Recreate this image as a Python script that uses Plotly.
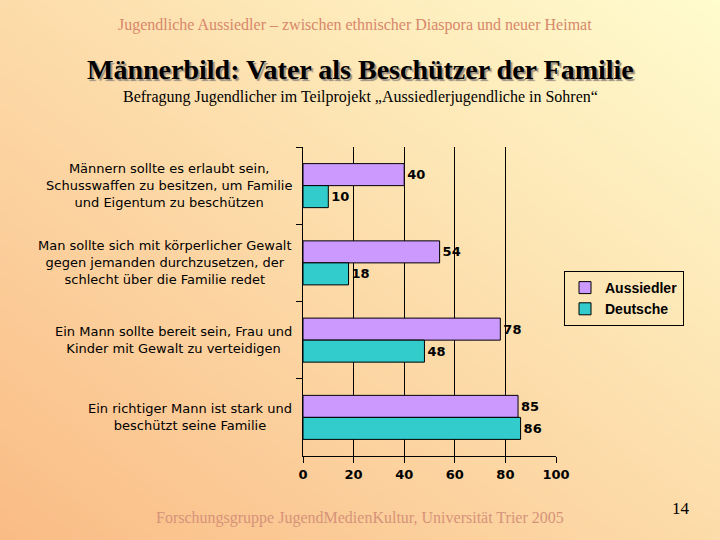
import base64, struct, zlib
import plotly.graph_objects as go

# ---------------- data ----------------
categories = [
    "Männern sollte es erlaubt sein,<br>Schusswaffen zu besitzen, um Familie<br>und Eigentum zu beschützen",
    "Man sollte sich mit körperlicher Gewalt<br>gegen jemanden durchzusetzen, der<br>schlecht über die Familie redet",
    "Ein Mann sollte bereit sein, Frau und<br>Kinder mit Gewalt zu verteidigen",
    "Ein richtiger Mann ist stark und<br>beschützt seine Familie",
]
aussiedler = [40, 54, 78, 85]
deutsche = [10, 18, 48, 86]
x_ticks = [0, 20, 40, 60, 80, 100]

header = "Jugendliche Aussiedler – zwischen ethnischer Diaspora und neuer Heimat"
title = "Männerbild: Vater als Beschützer der Familie"
subtitle = "Befragung Jugendlicher im Teilprojekt „Aussiedlerjugendliche in Sohren“"
footer = "Forschungsgruppe JugendMedienKultur, Universität Trier 2005"
page_no = "14"

# ---------------- layout geometry ----------------
W, H = 720, 540
L, R, T, B = 303, 720 - 556, 147, 540 - 456
PW, PH = W - L - R, H - T - B


def px_x(x):
    return (x - L) / PW


def px_y(y):
    return (H - B - y) / PH


# ---------------- gradient background PNG ----------------
def gradient_png(w, h):
    c0 = (250, 188, 134)   # bottom-left
    c1 = (255, 252, 206)   # top-right
    rows = []
    for j in range(h):
        row = bytearray([0])
        for i in range(w):
            t = (i / (w - 1) + (1 - j / (h - 1))) / 2
            for k in range(3):
                row.append(int(round(c0[k] + (c1[k] - c0[k]) * t)))
        rows.append(bytes(row))
    raw = b"".join(rows)

    def chunk(tag, data):
        c = tag + data
        return struct.pack(">I", len(data)) + c + struct.pack(">I", zlib.crc32(c) & 0xffffffff)

    png = b"\x89PNG\r\n\x1a\n"
    png += chunk(b"IHDR", struct.pack(">IIBBBBB", w, h, 8, 2, 0, 0, 0))
    png += chunk(b"IDAT", zlib.compress(raw, 9))
    png += chunk(b"IEND", b"")
    return "data:image/png;base64," + base64.b64encode(png).decode()


bg = gradient_png(144, 108)

# ---------------- figure ----------------
fig = go.Figure()
fig.add_trace(go.Bar(
    y=categories, x=aussiedler, orientation="h", name="Aussiedler",
    marker=dict(color="#CC99FF", line=dict(color="black", width=1)),
    text=[str(v) for v in aussiedler], textposition="outside",
    textfont=dict(family="DejaVu Sans", size=13, color="black", weight="bold"),
    cliponaxis=False,
))
fig.add_trace(go.Bar(
    y=categories, x=deutsche, orientation="h", name="Deutsche",
    marker=dict(color="#33CCCC", line=dict(color="black", width=1)),
    text=[str(v) for v in deutsche], textposition="outside",
    textfont=dict(family="DejaVu Sans", size=13, color="black", weight="bold"),
    cliponaxis=False,
))

annotations = []
# category labels (centered multi-line)
for c in categories:
    annotations.append(dict(
        x=0, xref="paper", y=c, yref="y", text=c, showarrow=False,
        xanchor="right", yanchor="middle", align="center", xshift=-9,
        font=dict(family="DejaVu Sans", size=13, color="black"),
    ))
# header texts
annotations.append(dict(x=px_x(355), y=px_y(25), xref="paper", yref="paper", text=header,
                        showarrow=False, xanchor="center", yanchor="middle",
                        font=dict(family="Liberation Serif", size=16, color="#D8876A")))
annotations.append(dict(x=px_x(360), y=px_y(70), xref="paper", yref="paper", text=title,
                        showarrow=False, xanchor="center", yanchor="middle",
                        font=dict(family="Liberation Serif", size=28, color="black", weight="bold",
                                  shadow="2px 2px 1px #9a8f80")))
annotations.append(dict(x=px_x(360), y=px_y(97), xref="paper", yref="paper", text=subtitle,
                        showarrow=False, xanchor="center", yanchor="middle",
                        font=dict(family="Liberation Serif", size=16, color="black")))
annotations.append(dict(x=px_x(360), y=px_y(518), xref="paper", yref="paper", text=footer,
                        showarrow=False, xanchor="center", yanchor="middle",
                        font=dict(family="Liberation Serif", size=16, color="#D6937A")))
annotations.append(dict(x=px_x(681), y=px_y(508), xref="paper", yref="paper", text=page_no,
                        showarrow=False, xanchor="center", yanchor="middle",
                        font=dict(family="Liberation Serif", size=17, color="black")))

fig.update_layout(
    width=W, height=H,
    margin=dict(l=L, r=R, t=T, b=B, pad=0),
    paper_bgcolor="#FDDCA8",
    plot_bgcolor="rgba(0,0,0,0)",
    barmode="group", bargap=0.43, bargroupgap=0,
    showlegend=True,
    legend=dict(
        x=px_x(564), y=px_y(271), xanchor="left", yanchor="top",
        bordercolor="black", borderwidth=1, bgcolor="rgba(0,0,0,0)",
        font=dict(family="Liberation Sans", size=14, color="black", weight="bold"),
        traceorder="normal", itemwidth=30, tracegroupgap=2,
    ),
    xaxis=dict(
        range=[0, 100], tickvals=x_ticks, ticktext=[str(v) for v in x_ticks],
        showgrid=True, gridcolor="black", gridwidth=1,
        showline=True, linecolor="black", linewidth=1,
        ticks="outside", ticklen=6, tickcolor="black",
        tickfont=dict(family="DejaVu Sans", size=13, color="black", weight="bold"),
        zeroline=False, fixedrange=True,
    ),
    yaxis=dict(
        autorange="reversed", showticklabels=False,
        ticks="outside", tickson="boundaries", ticklen=6, tickcolor="black",
        showline=True, linecolor="black", linewidth=1, showgrid=False,
        fixedrange=True,
    ),
    annotations=annotations,
    images=[dict(
        source=bg, xref="paper", yref="paper",
        x=-L / PW, y=1 + T / PH, sizex=W / PW, sizey=H / PH,
        xanchor="left", yanchor="top", sizing="stretch", layer="below",
    )],
)

fig.write_html(
    "out.html",
    config={"displayModeBar": False},
    post_script="document.body.style.margin='0';document.body.style.overflow='hidden';",
)
